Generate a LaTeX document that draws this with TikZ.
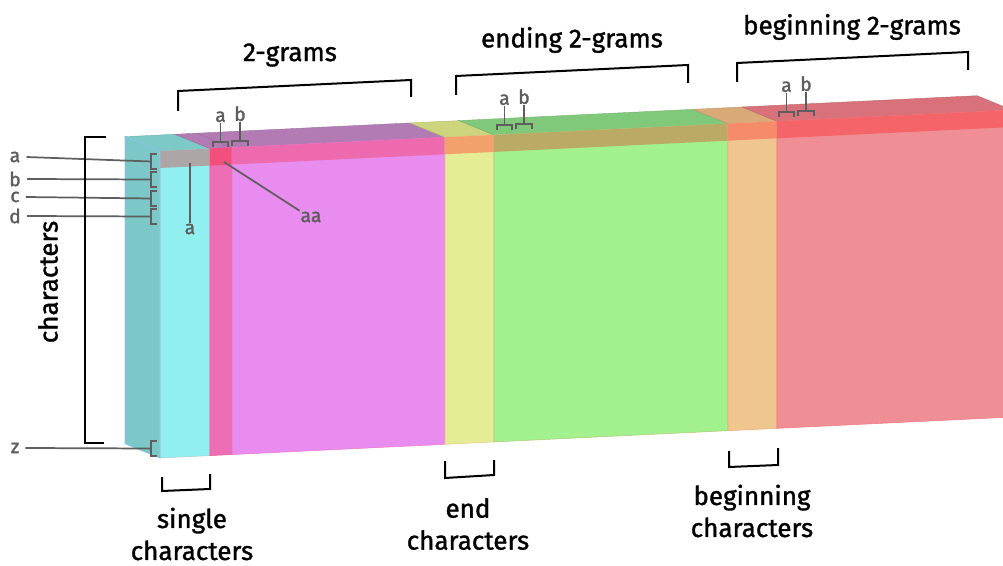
\documentclass[tikz,border=0pt]{standalone}
\usepackage{fontspec}
\setmainfont{Fira Sans}
\newfontfamily\headfont{Fira Sans}[FakeBold=1.3]
\newfontfamily\markfont{Fira Sans}[FakeBold=1.6]
\usetikzlibrary{positioning}

% front faces, top-row stripe and top faces of the slab
\definecolor{cyanf}{HTML}{92EFEF}
\definecolor{cyanr}{HTML}{ADA6A6}
\definecolor{cyant}{HTML}{7CC9C8}
\definecolor{pinkf}{HTML}{EE6EB6}
\definecolor{pinkr}{HTML}{F34F7C}
\definecolor{magf}{HTML}{E98CEF}
\definecolor{magr}{HTML}{EE6AAE}
\definecolor{magt}{HTML}{B27BB4}
\definecolor{yelf}{HTML}{E5EC96}
\definecolor{yelr}{HTML}{F2A06C}
\definecolor{yelt}{HTML}{CCD47E}
\definecolor{grnf}{HTML}{A2F08E}
\definecolor{grnr}{HTML}{BAAA66}
\definecolor{grnt}{HTML}{80C97A}
\definecolor{tanf}{HTML}{F0C68F}
\definecolor{tanr}{HTML}{F58B68}
\definecolor{tant}{HTML}{D9A977}
\definecolor{redf}{HTML}{F08E95}
\definecolor{redr}{HTML}{F46468}
\definecolor{redt}{HTML}{D9717B}
\definecolor{sidef}{HTML}{7CC8C8}
\definecolor{edgeblue}{HTML}{8EC4F0}
\definecolor{markgray}{HTML}{5E5E5E}

\begin{document}
\begin{tikzpicture}[
    x=0.75pt, y=-0.75pt,
    bigtxt/.style={font=\headfont\fontsize{19.5}{24}\selectfont, text=black, align=center},
    smalltxt/.style={font=\markfont\fontsize{14.5}{16}\selectfont, text=markgray, inner sep=0.5pt},
    brace/.style={draw=black, line width=1.5pt},
    pointer/.style={draw=markgray, line width=1.3pt},
    tickmark/.style={draw=markgray, line width=1.3pt}
]
    \fill[white] (0,0) rectangle (1003,566);
    \useasboundingbox (0,0) rectangle (1003,566);

    % the slab
    \begin{scope}
    \clip (0,0) rectangle (1003,566);
    \begin{scope}[shift={(160,151)}, yslant=0.0481]
        \fill[sidef] (0,0) -- (-35,-16) -- (-35,291) -- (0,307) -- cycle;
        \foreach \ua/\ub/\cf/\cr/\ct in {0/50/cyanf/cyanr/cyant, 50/72/pinkf/pinkr/magt,
                72/285/magf/magr/magt, 285/334/yelf/yelr/yelt, 334/568/grnf/grnr/grnt,
                568/617/tanf/tanr/tant, 617/852/redf/redr/redt} {
            \filldraw[fill=\ct, draw=\ct!88!black, line width=0.3pt]
                (\ua,0) -- (\ub,0) -- (\ub-35,-16) -- (\ua-35,-16) -- cycle;
            \filldraw[fill=\cf, draw=\cf!85!red, line width=0.4pt] (\ua,0) rectangle (\ub,307);
            \fill[\cr] (\ua,0) rectangle (\ub,17);
        }
        \draw[edgeblue, line width=0.6pt] (-35,-16) -- (-35,291) -- (0,307) -- (0,0) -- cycle;
    \end{scope}
    \end{scope}

    % rows on the left
    \foreach \lab/\ty/\ly in {a/154/157, b/172/179, c/191/197, d/209/216, z/441/448} {
        \node[smalltxt] (lab-\lab) at (15,\ly) {\lab};
        \draw[tickmark] (157,\ty) -- (151,\ty) -- (151,\ty+15) -- (157,\ty+15);
        \coordinate (row-\lab) at (151,\ty+7.5);
        \draw[pointer] ([xshift=4pt]lab-\lab.east) -- (row-\lab);
    }

    % pairs on the top faces
    \foreach \gx/\gy/\gn in {213/142/two, 497/125/end, 779/112/beg} {
        \draw[tickmark] (\gx,\gy+5) -- (\gx,\gy) -- (\gx+15,\gy) -- (\gx+15,\gy+5);
        \draw[tickmark] (\gx+19,\gy+4) -- (\gx+19,\gy-1) -- (\gx+35,\gy-1) -- (\gx+35,\gy+4);
        \coordinate (pa-\gn) at (\gx+7.5,\gy);
        \coordinate (pb-\gn) at (\gx+27,\gy-1);
        \node[smalltxt, anchor=south] (la-\gn) at (\gx+7.5,\gy-19) {a};
        \node[smalltxt, anchor=south] (lb-\gn) at (\gx+27,\gy-20) {b};
        \draw[pointer] (la-\gn.south) -- (pa-\gn);
        \draw[pointer] (lb-\gn.south) -- (pb-\gn);
    }

    % cells of the front face
    \coordinate (cell-a) at (190,163);
    \coordinate (cell-aa) at (224,162);
    \node[smalltxt] (lab-single) at (190,229) {a};
    \node[smalltxt] (lab-aa) at (311,217) {aa};
    \draw[pointer] (cell-a) -- (lab-single.north);
    \draw[pointer] (cell-aa) -- (lab-aa.north west);

    % groups above
    \draw[brace] (178,111) -- (178,91) -- (411,80) -- (411,97);
    \draw[brace] (456,95) -- (456,76) -- (688,65) -- (688,83);
    \draw[brace] (737,82) -- (737,63) -- (968,52) -- (968,70);
    \node[bigtxt] (twograms) at (290,55) {2-grams};
    \node[bigtxt] (endgrams) at (572,40) {ending 2-grams};
    \node[bigtxt] (beggrams) at (852,27) {beginning 2-grams};

    % groups below and on the left
    \draw[brace] (106,137) -- (85,137) -- (85,443) -- (104,443);
    \draw[brace] (162,477) -- (162,491) -- (210,489) -- (210,474);
    \draw[brace] (445,461) -- (445,478) -- (494,475) -- (494,460);
    \draw[brace] (729,451) -- (729,467) -- (778,465) -- (778,448);
    \node[bigtxt, rotate=90] (chars) at (48,282) {characters};
    \node[bigtxt] (singlechars) at (192,534) {single\\characters};
    \node[bigtxt] (endchars) at (468,524) {end\\characters};
    \node[bigtxt] (begchars) at (752,511) {beginning\\characters};
\end{tikzpicture}
\end{document}
